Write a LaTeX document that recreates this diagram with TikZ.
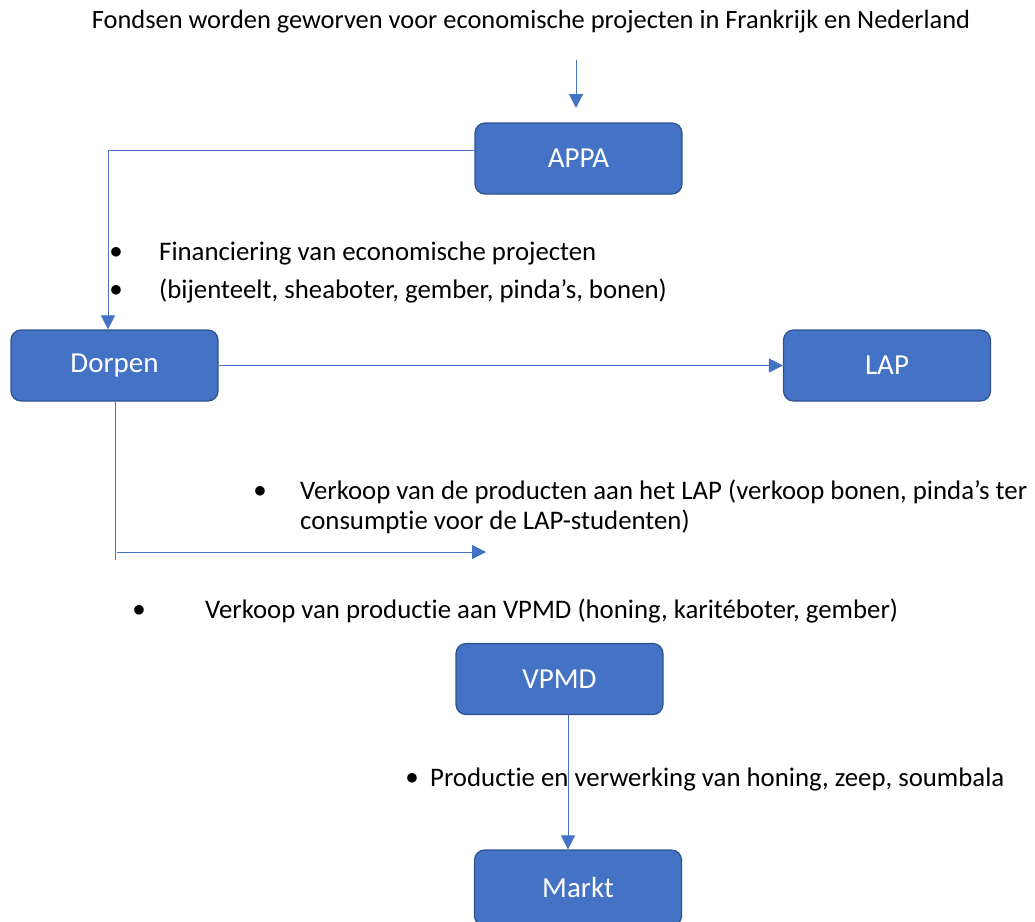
\documentclass[tikz,border=0pt]{standalone}
\usepackage{fontspec}
\setmainfont{Carlito}[Ligatures=NoCommon]
\usetikzlibrary{arrows.meta}
\definecolor{boxfill}{HTML}{4472C4}
\definecolor{boxline}{HTML}{2F528F}
\definecolor{conn}{HTML}{4472C4}
\tikzset{
  box/.style={draw=boxline, line width=1.2pt, fill=boxfill, rounded corners=10pt, text=white, font=\fontsize{29}{34}\selectfont, minimum width=207pt, minimum height=71pt, inner sep=0pt},
  conn/.style={draw=conn, line width=1pt},
  arr/.style={conn, -{Triangle[length=14pt, width=14pt]}},
  lbl/.style={font=\fontsize{26.8}{31}\selectfont, anchor=west, inner sep=0pt},
  bul/.style={font=\fontsize{28}{31}\selectfont, inner sep=0pt}
}
\begin{document}
\begin{tikzpicture}[x=1pt, y=-1pt]
\useasboundingbox (0,0) rectangle (1035,921);
\node[font=\fontsize{26.4}{30}\selectfont, inner sep=0pt] (title) at (531,22) {Fondsen worden geworven voor economische projecten in Frankrijk en Nederland};
\node[box] (appa) at (578.5,158.5) {APPA};
\node[box] (dorpen) at (114.5,365.5) {Dorpen};
\node[box] (lap) at (887,365.5) {LAP};
\node[box] (vpmd) at (559.5,679) {VPMD};
\node[box, minimum height=76pt] (markt) at (578,888) {Markt};

\coordinate (t1) at (576,60);
\coordinate (t2) at (576,108);
\draw[arr] (t1) -- (t2);
\coordinate (ac) at (108,150);
\draw[arr] (appa.west |- ac) -- (ac) -- (ac |- dorpen.north);
\draw[arr] (dorpen.east) -- (lap.west);
\coordinate (dv) at (115,560);
\draw[conn] (dorpen.south -| dv) -- (dv);
\coordinate (h1) at (117,552);
\coordinate (h2) at (486,552);
\draw[arr] (h1) -- (h2);
\coordinate (vm) at (568,0);
\draw[arr] (vpmd.south -| vm) -- (markt.north -| vm);

\node[bul] (b1) at (116,253) {$\bullet$};
\node[lbl] (l1) at (159,253) {Financiering van economische projecten};
\node[bul] (b2) at (116,291) {$\bullet$};
\node[lbl] (l2) at (159,291) {(bijenteelt, sheaboter, gember, pinda’s, bonen)};
\node[bul] (b3) at (260,492) {$\bullet$};
\node[lbl] (l3) at (300,492) {Verkoop van de producten aan het LAP (verkoop bonen, pinda’s ter};
\node[lbl] (l3b) at (300,522) {consumptie voor de LAP-studenten)};
\node[bul] (b4) at (139,611) {$\bullet$};
\node[lbl] (l4) at (205,611) {Verkoop van productie aan VPMD (honing, karitéboter, gember)};
\node[bul] (b5) at (412,779) {$\bullet$};
\node[lbl] (l5) at (430,779) {Productie en verwerking van honing, zeep, soumbala};
\end{tikzpicture}
\end{document}
